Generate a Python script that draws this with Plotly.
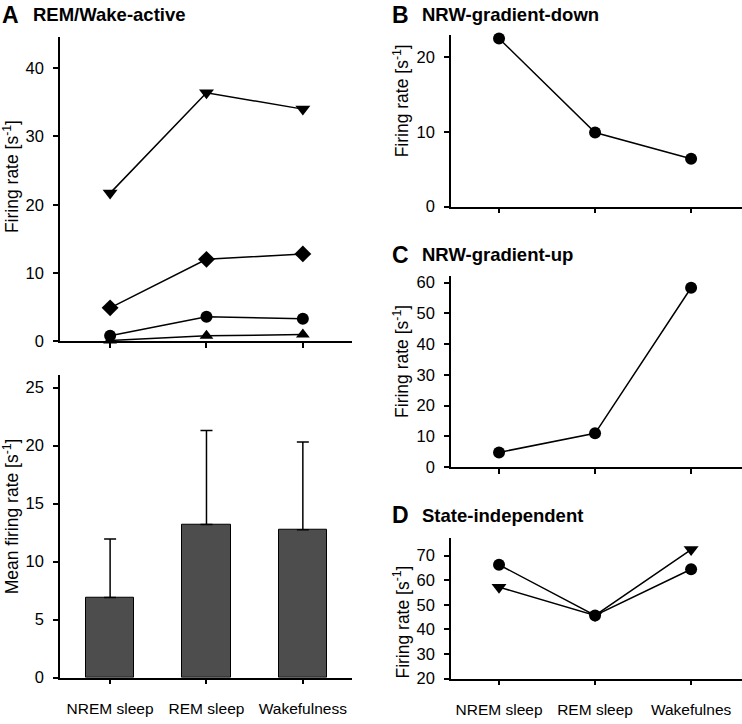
import plotly.graph_objects as go

W, H = 742, 724

states = ["NREM sleep", "REM sleep", "Wakefulness"]
states_d = ["NREM sleep", "REM sleep", "Wakefulnes"]
xpos = [0, 1, 2]

# Panel A top: four REM/Wake-active neurons
a_tri_down = [21.7, 36.4, 34.0]
a_diamond = [4.9, 12.0, 12.8]
a_circle = [0.8, 3.6, 3.3]
a_tri_up = [0.1, 0.8, 1.0]

# Panel A bottom: mean firing rate with SD (upper end)
a_mean = [6.9, 13.2, 12.75]
a_upper = [11.95, 21.3, 20.3]

# Panel B
b_circle = [22.5, 9.9, 6.4]
# Panel C
c_circle = [4.8, 11.0, 58.3]
# Panel D
d_circle = [66.3, 45.7, 64.5]
d_tri_down = [57.2, 45.7, 72.5]

FONT = "Liberation Sans, Arial, sans-serif"


def px_x(p):
    return p / W


def px_y(p):
    return 1 - p / H


fig = go.Figure()

line_style = dict(color="black", width=1.5)


def add_line(y, sym, size, xa, ya):
    fig.add_trace(go.Scatter(
        x=xpos, y=y, mode="lines+markers",
        line=line_style,
        marker=dict(symbol=sym, size=size, color="black"),
        xaxis=xa, yaxis=ya, showlegend=False, cliponaxis=False))


# A top
add_line(a_tri_up, "triangle-up", 12, "x", "y")
add_line(a_circle, "circle", 12, "x", "y")
add_line(a_diamond, "diamond", 13, "x", "y")
add_line(a_tri_down, "triangle-down", 13, "x", "y")

# A bottom
err_plus = [u - m for u, m in zip(a_upper, a_mean)]
fig.add_trace(go.Bar(
    x=xpos, y=a_mean, width=0.5,
    marker=dict(color="#4d4d4d", line=dict(color="black", width=1)),
    error_y=dict(type="data", symmetric=False, array=err_plus,
                 arrayminus=[0, 0, 0], color="black", thickness=1.5, width=6),
    xaxis="x2", yaxis="y2", showlegend=False))

# B, C, D
add_line(b_circle, "circle", 12, "x3", "y3")
add_line(c_circle, "circle", 12, "x4", "y4")
add_line(d_tri_down, "triangle-down", 13, "x5", "y5")
add_line(d_circle, "circle", 12, "x5", "y5")

ax_common = dict(showline=True, linecolor="black", linewidth=1.5,
                 ticks="outside", ticklen=5, tickwidth=1.5, tickcolor="black",
                 showgrid=False, zeroline=False,
                 tickfont=dict(family=FONT, size=16.5, color="black"))
y_common = dict(ax_common, ticklabelstandoff=6)
x_lab = dict(ax_common, ticklabelstandoff=11,
             tickfont=dict(family=FONT, size=15.5, color="black"))

xl_dom = [px_x(60), px_x(352)]
xr_dom = [px_x(451), 1.0]
xl_rng = [-0.52, 2.51]
xr_rng = [-0.5, 2.53]

layout = dict(
    width=W, height=H, margin=dict(l=0, r=0, t=0, b=0),
    plot_bgcolor="white", paper_bgcolor="white",
    font=dict(family=FONT, color="black"),
    bargap=0,
)

layout["xaxis"] = dict(ax_common, domain=xl_dom, range=xl_rng,
                       tickvals=xpos, showticklabels=False, anchor="y")
layout["yaxis"] = dict(y_common, domain=[px_y(344), px_y(35)], range=[0, 44.5],
                       tickvals=[0, 10, 20, 30, 40], anchor="x")

layout["xaxis2"] = dict(x_lab, domain=xl_dom, range=xl_rng,
                        tickvals=xpos, ticktext=states, anchor="y2")
layout["yaxis2"] = dict(y_common, domain=[px_y(686), px_y(378)], range=[0, 26.1],
                        tickvals=[0, 5, 10, 15, 20, 25], anchor="x2")

layout["xaxis3"] = dict(ax_common, domain=xr_dom, range=xr_rng,
                        tickvals=xpos, showticklabels=False, anchor="y3")
layout["yaxis3"] = dict(y_common, domain=[px_y(207), px_y(33)], range=[0, 22.9],
                        tickvals=[0, 10, 20], anchor="x3")

layout["xaxis4"] = dict(ax_common, domain=xr_dom, range=xr_rng,
                        tickvals=xpos, showticklabels=False, anchor="y4")
layout["yaxis4"] = dict(y_common, domain=[px_y(472), px_y(278)], range=[0, 62],
                        tickvals=[0, 10, 20, 30, 40, 50, 60], anchor="x4")

layout["xaxis5"] = dict(x_lab, domain=xr_dom, range=xr_rng,
                        tickvals=xpos, ticktext=states_d, anchor="y5")
layout["yaxis5"] = dict(y_common, domain=[px_y(687), px_y(544)], range=[20, 77.2],
                        tickvals=[20, 30, 40, 50, 60, 70], anchor="x5")

fig.update_layout(**layout)

ann = []


def title(letter, text, xl, xt, yc):
    ann.append(dict(text="<b>" + letter + "</b>", x=px_x(xl), y=px_y(yc),
                    xref="paper", yref="paper", xanchor="left", yanchor="middle",
                    showarrow=False, font=dict(family=FONT, size=23, color="black")))
    ann.append(dict(text="<b>" + text + "</b>", x=px_x(xt), y=px_y(yc),
                    xref="paper", yref="paper", xanchor="left", yanchor="middle",
                    showarrow=False, font=dict(family=FONT, size=18.5, color="black")))


title("A", "REM/Wake-active", 0, 31, 12)
title("B", "NRW-gradient-down", 390, 420, 12)
title("C", "NRW-gradient-up", 390, 420, 256)
title("D", "State-independent", 390, 420, 521)


def ytitle(text, xc, yc):
    ann.append(dict(text=text, x=px_x(xc), y=px_y(yc), xref="paper", yref="paper",
                    xanchor="center", yanchor="middle", textangle=-90,
                    showarrow=False, font=dict(family=FONT, size=17.5, color="black")))


fr = "Firing rate [s<sup>-1</sup>]"
ytitle(fr, 11, 177)
ytitle("Mean firing rate [s<sup>-1</sup>]", 11, 522)
ytitle(fr, 401, 100)
ytitle(fr, 401, 365)
ytitle(fr, 401, 630)

fig.update_layout(annotations=ann)

fig.write_html("out.html", config={"displayModeBar": False},
               post_script="document.body.style.margin='0';document.body.style.padding='0';")
